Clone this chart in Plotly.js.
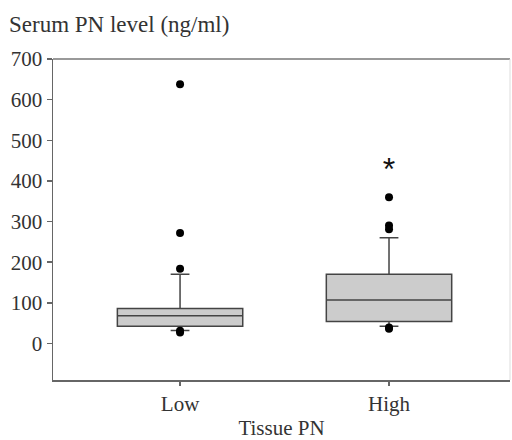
<!DOCTYPE html>
<html>
<head>
<meta charset="utf-8">
<script src="https://cdn.plot.ly/plotly-3.0.1.min.js"></script>
<style>html,body{margin:0;padding:0;background:#fff;}#chart{width:512px;height:440px;}</style>
</head>
<body>
<div id="chart"></div>
<script>
const categories = ['Low', 'High'];
const q1 = [42, 54];
const median = [68, 107];
const q3 = [86, 170];
const lowerFence = [32, 42];
const upperFence = [170, 260];
const lowOutliers = [638, 272, 184, 31, 27];
const highOutliers = [360, 290, 281, 39, 36];
const significance = ['', '*'];
const significanceY = [null, 422];
const yTicks = [0, 100, 200, 300, 400, 500, 600, 700];

const pos = categories.map((c, i) => i);

const boxTrace = {
  type: 'box',
  x: pos,
  q1: q1, median: median, q3: q3,
  lowerfence: lowerFence, upperfence: upperFence,
  boxpoints: false,
  width: 0.6,
  whiskerwidth: 0.15,
  fillcolor: '#cccccc',
  line: {color: '#444444', width: 1.5},
  hoverinfo: 'skip',
  showlegend: false
};

const outX = [], outY = [];
lowOutliers.forEach(v => { outX.push(0); outY.push(v); });
highOutliers.forEach(v => { outX.push(1); outY.push(v); });

const outlierTrace = {
  type: 'scatter', mode: 'markers',
  x: outX, y: outY,
  marker: {color: '#000000', size: 8},
  showlegend: false, hoverinfo: 'skip'
};

const starX = [], starY = [], starT = [];
significance.forEach((s, i) => { if (s) { starX.push(i); starY.push(significanceY[i]); starT.push(s); } });
const starTrace = {
  type: 'scatter', mode: 'text',
  x: starX, y: starY, text: starT,
  textfont: {family: 'Liberation Sans, Arial, sans-serif', size: 32, color: '#111111'},
  textposition: 'middle center',
  showlegend: false, hoverinfo: 'skip'
};

function f(size) {
  return {family: 'Liberation Serif', size: size || 21, color: '#333333'};
}

const layout = {
  width: 512, height: 440,
  margin: {l: 53, r: 2, t: 59, b: 60},
  paper_bgcolor: '#ffffff', plot_bgcolor: '#ffffff',
  font: f(21),
  showlegend: false,
  xaxis: {
    range: [-0.608, 1.579],
    tickmode: 'array', tickvals: pos, ticktext: categories,
    showgrid: false, zeroline: false,
    showline: true, linecolor: '#666666', linewidth: 1.5,
    ticks: 'outside', ticklen: 4, tickcolor: '#666666', tickwidth: 1.5,
    tickfont: f(21),
    title: {text: 'Tissue PN', font: f(21), standoff: 6}
  },
  yaxis: {
    range: [-90, 700],
    tickmode: 'array', tickvals: yTicks, ticktext: yTicks.map(String),
    showgrid: false, zeroline: false,
    showline: true, linecolor: '#666666', linewidth: 1.5,
    ticks: 'outside', ticklen: 5, tickcolor: '#666666', tickwidth: 1.5,
    tickfont: f(21)
  },
  shapes: [
    {type: 'line', xref: 'paper', yref: 'paper', x0: 0, x1: 1, y0: 1, y1: 1, line: {color: '#777777', width: 1.5}},
    {type: 'line', xref: 'paper', yref: 'paper', x0: 1, x1: 1, y0: 0, y1: 1, line: {color: '#dddddd', width: 1}}
  ],
  annotations: [
    {text: 'Serum PN level (ng/ml)', xref: 'paper', yref: 'paper', x: -0.1, y: 1.106,
     xanchor: 'left', yanchor: 'middle', showarrow: false, font: f(23)}
  ]
};

Plotly.newPlot('chart', [boxTrace, outlierTrace, starTrace], layout, {staticPlot: true, displayModeBar: false});
</script>
</body>
</html>
